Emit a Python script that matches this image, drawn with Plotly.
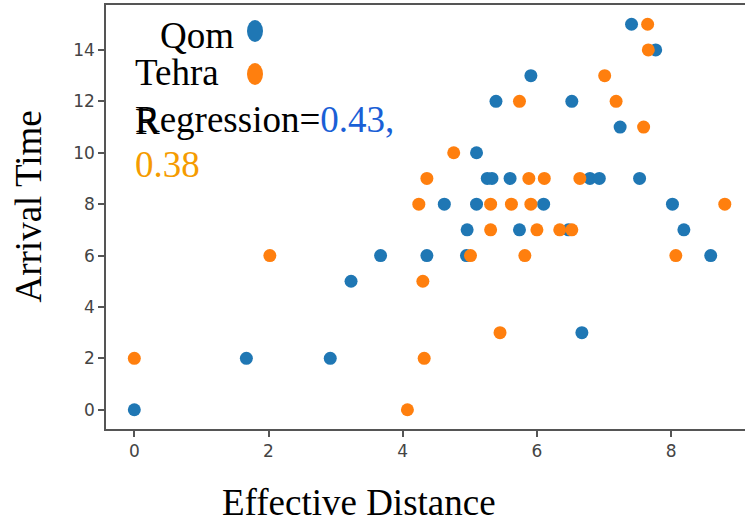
import plotly.graph_objects as go

# ---- data ----
qom_x = [0.00, 1.67, 2.92, 3.23, 3.67, 4.36, 4.95, 4.62, 5.10, 6.10, 8.02,
         4.96, 5.74, 6.47, 8.19, 5.26, 5.33, 5.60, 6.79, 6.93, 7.53,
         5.10, 7.24, 5.39, 6.52, 5.91, 7.77, 7.41, 6.67, 8.59]
qom_y = [0, 2, 2, 5, 6, 6, 6, 8, 8, 8, 8,
         7, 7, 7, 7, 9, 9, 9, 9, 9, 9,
         10, 11, 12, 12, 13, 14, 15, 3, 6]

teh_x = [0.00, 2.02, 4.07, 4.32, 4.30, 5.45, 4.24, 5.31, 5.62, 5.91, 8.80,
         5.01, 5.82, 8.07, 5.31, 6.00, 6.34, 6.52, 4.36, 5.88, 6.11, 6.64,
         4.76, 7.59, 5.74, 7.18, 7.01, 7.66, 7.65]
teh_y = [2, 6, 0, 2, 5, 3, 8, 8, 8, 8, 8,
         6, 6, 6, 7, 7, 7, 7, 9, 9, 9, 9,
         10, 11, 12, 12, 13, 14, 15]

x_ticks = [0, 2, 4, 6, 8]
y_ticks = [0, 2, 4, 6, 8, 10, 12, 14]
series_names = ["Qom", "Tehra"]
reg_values = ["0.43", "0.38"]

BLUE = "#1f77b4"
ORANGE = "#ff7f0e"

W, H = 745, 521
ML, MR, MT, MB = 106, 0, 5, 92
PW, PH = W - ML - MR, H - MT - MB

def px(x):
    return (x - ML) / PW

def py(y):
    return (H - MB - y) / PH

fig = go.Figure()
fig.add_trace(go.Scatter(x=qom_x, y=qom_y, mode="markers", name=series_names[0],
                         marker=dict(color=BLUE, size=13, line=dict(width=0))))
fig.add_trace(go.Scatter(x=teh_x, y=teh_y, mode="markers", name=series_names[1],
                         marker=dict(color=ORANGE, size=13, line=dict(width=0))))

serif = "Liberation Serif"
FS = 37
tickfont = dict(family="DejaVu Sans", size=17, color="#444444")

annotations = [
    dict(text=series_names[0], x=px(159), y=py(36)),
    dict(text=series_names[1], x=px(134), y=py(72)),
    dict(text="Regression=<span style='color:#1a5fd6'>" + reg_values[0] + ",</span>",
         x=px(134), y=py(119)),
    dict(text="R", x=px(134), y=py(122)),
    dict(text="<span style='color:#f59b00'>" + reg_values[1] + "</span>",
         x=px(134), y=py(164)),
]
anns = []
for a in annotations:
    anns.append(dict(text=a["text"], x=a["x"], y=a["y"], xref="paper", yref="paper",
                     xanchor="left", yanchor="middle", showarrow=False, borderpad=0,
                     font=dict(family=serif, size=FS, color="black")))
anns.append(dict(text="Arrival Time", x=px(28), y=py(206.5), xref="paper", yref="paper",
                 textangle=-90, showarrow=False, xanchor="center", yanchor="middle",
                 font=dict(family=serif, size=FS, color="black")))
anns.append(dict(text="Effective Distance", x=px(358.5), y=py(502.5), xref="paper", yref="paper",
                 showarrow=False, xanchor="center", yanchor="middle",
                 font=dict(family=serif, size=FS, color="black")))

shapes = [
    dict(type="circle", xref="paper", yref="paper", xsizemode="pixel", ysizemode="pixel",
         xanchor=0, yanchor=1, x0=247 - ML, x1=263 - ML, y0=-(20 - MT), y1=-(42 - MT),
         fillcolor=BLUE, line=dict(width=0), layer="above"),
    dict(type="circle", xref="paper", yref="paper", xsizemode="pixel", ysizemode="pixel",
         xanchor=0, yanchor=1, x0=247 - ML, x1=263 - ML, y0=-(63 - MT), y1=-(85 - MT),
         fillcolor=ORANGE, line=dict(width=0), layer="above"),
]

fig.update_layout(
    width=W, height=H,
    margin=dict(l=ML, r=MR, t=MT, b=MB),
    paper_bgcolor="white", plot_bgcolor="white",
    showlegend=False,
    annotations=anns,
    shapes=shapes,
    xaxis=dict(range=[-0.422, 9.101], tickvals=x_ticks, ticktext=[str(v) for v in x_ticks],
               showgrid=False, zeroline=False, showline=True, linecolor="#555555",
               linewidth=1.5, mirror=True, ticks="outside", ticklen=6, tickwidth=1.5,
               tickcolor="#555555", tickfont=tickfont),
    yaxis=dict(range=[-0.75, 15.75], tickvals=y_ticks, ticktext=[str(v) for v in y_ticks],
               showgrid=False, zeroline=False, showline=True, linecolor="#555555",
               linewidth=1.5, ticks="outside", ticklen=6, tickwidth=1.5,
               tickcolor="#555555", tickfont=tickfont),
)

fig.write_html("out.html")
